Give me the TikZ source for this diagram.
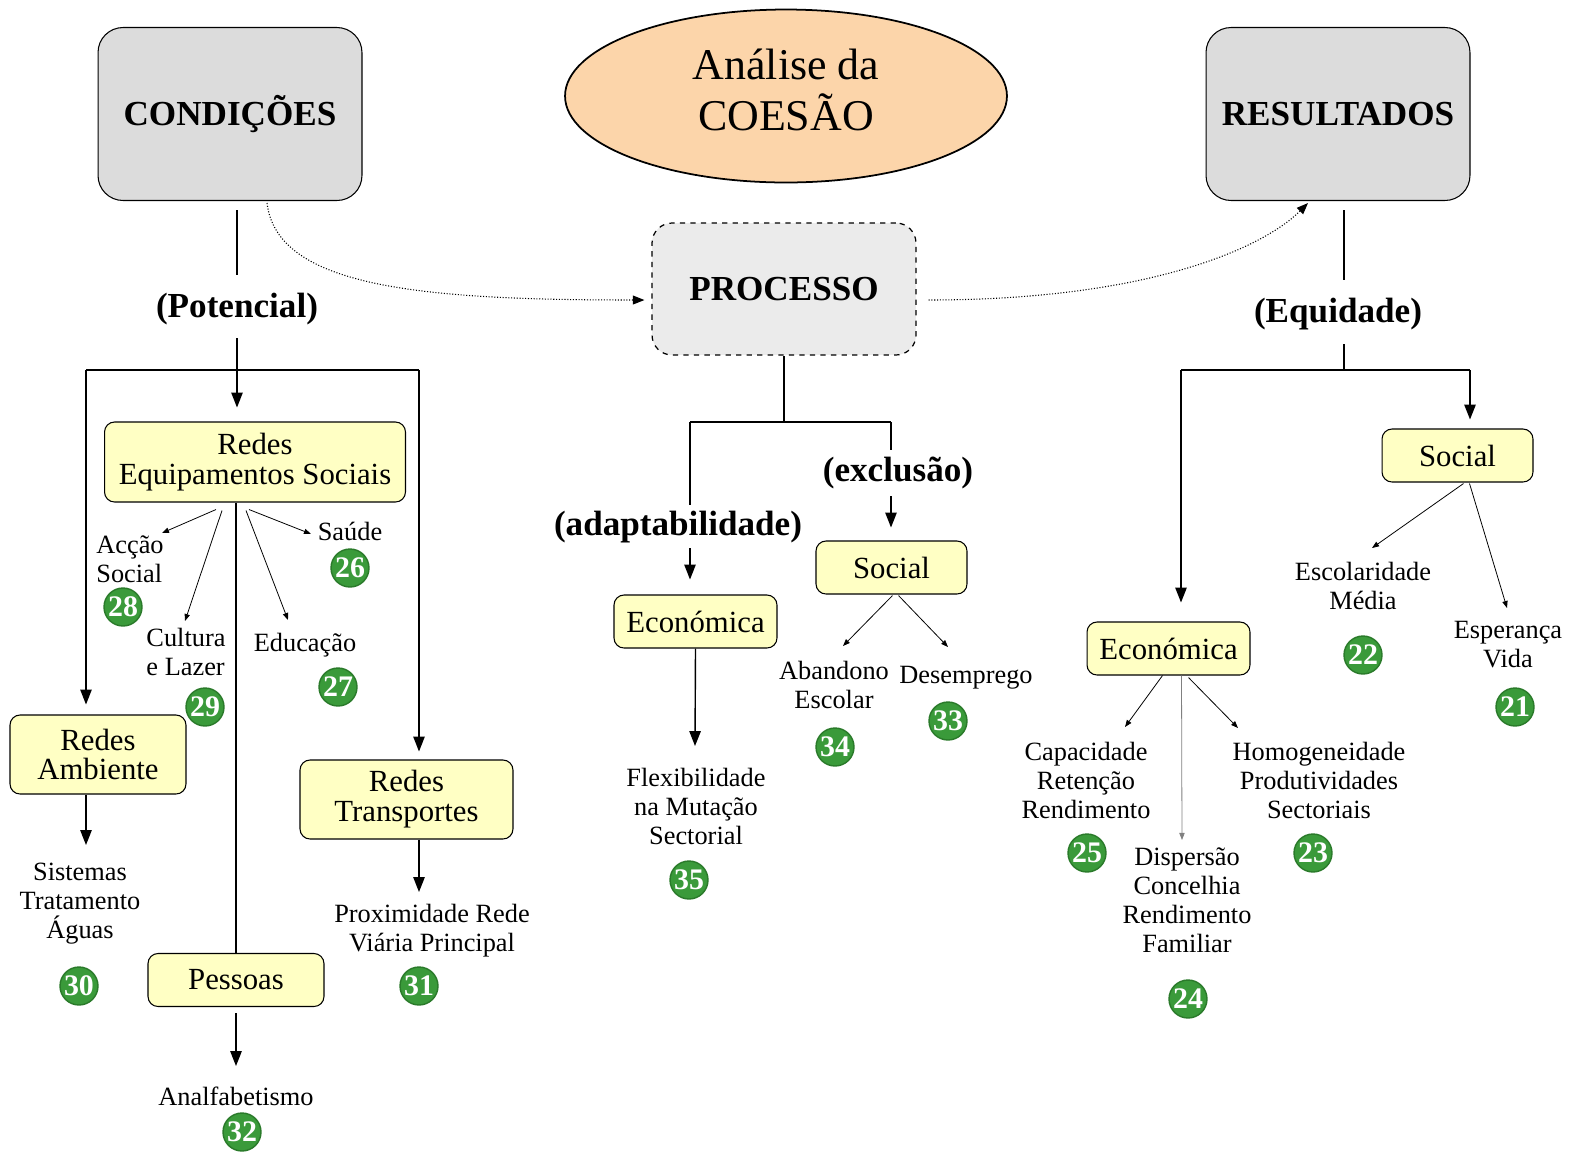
\documentclass[tikz,border=0pt]{standalone}
\usepackage{fontspec}
\setmainfont{Liberation Serif}
\usetikzlibrary{arrows.meta,shapes.geometric,calc}

\definecolor{boxgray}{HTML}{DCDCDC}
\definecolor{procgray}{HTML}{EBEBEB}
\definecolor{peach}{HTML}{FCD5AA}
\definecolor{paleyellow}{HTML}{FFFFC4}
\definecolor{badgegreen}{HTML}{3A9A3A}
\definecolor{badgeline}{HTML}{2A7A2A}

\tikzset{
  ln/.style={line width=0.8pt},
  arr/.style={line width=0.8pt, -{Triangle[length=8.5pt,width=6.5pt]}},
  sarr/.style={line width=0.45pt, -{Triangle[length=4pt,width=3pt]}},
  dotarr/.style={line width=0.6pt, densely dotted, -{Triangle[length=6.5pt,width=5pt]}},
  topbox/.style={draw, line width=0.6pt, rounded corners=0.5cm, fill=boxgray, minimum width=5.28cm, minimum height=3.46cm, inner sep=0pt, font=\bfseries\fontsize{20}{22}\selectfont},
  netbox/.style={draw, line width=0.6pt, rounded corners=0.2cm, fill=paleyellow, inner sep=0pt, align=center, font=\fontsize{17.5}{17}\selectfont},
  paren/.style={inner sep=0pt, font=\bfseries\fontsize{20}{22}\selectfont},
  leaf/.style={inner sep=0pt, align=center, font=\fontsize{15}{16.5}\selectfont},
  badge/.style={circle, draw=badgeline, line width=0.8pt, fill=badgegreen, minimum size=0.76cm, inner sep=0pt, text=white, font=\bfseries\fontsize{17}{17}\selectfont}
}

\begin{document}
\begin{tikzpicture}[x=0.02cm, y=-0.02cm]
\useasboundingbox (0,0) rectangle (1572,1154);

\node[topbox] (cond) at (230,114) {CONDIÇÕES};
\node[topbox] (res) at (1338,114) {RESULTADOS};
\node[ellipse, draw, line width=1pt, fill=peach, minimum width=8.84cm, minimum height=3.46cm, inner sep=0pt, font=\fontsize{25}{27}\selectfont] (title) at (786,96) {\raisebox{0.24cm}{\begin{tabular}{@{}c@{}}Análise da\\COESÃO\end{tabular}}};
\node[draw, dashed, line width=0.7pt, rounded corners=0.4cm, fill=procgray, minimum width=5.28cm, minimum height=2.64cm, inner sep=0pt, font=\bfseries\fontsize{20}{22}\selectfont] (proc) at (784,289) {PROCESSO};

\node[paren] (pot) at (237,309) {(Potencial)};
\node[paren] (equi) at (1338,314) {(Equidade)};
\node[paren] (adapt) at (678,527) {(adaptabilidade)};
\node[paren] (excl) at (898,473) {(exclusão)};

\node[netbox, minimum width=6.02cm, minimum height=1.6cm] (equip) at (255,462) {Redes\\Equipamentos Sociais};
\node[netbox, minimum width=3.52cm, minimum height=1.58cm] (amb) at (98,754.5) {Redes\\Ambiente};
\node[netbox, minimum width=4.26cm, minimum height=1.58cm] (trans) at (406.5,799.5) {Redes\\Transportes};
\node[netbox, minimum width=3.52cm, minimum height=1.06cm] (pes) at (236,980) {Pessoas};
\node[netbox, minimum width=3.26cm, minimum height=1.06cm] (econM) at (695.5,621.5) {Económica};
\node[netbox, minimum width=3.02cm, minimum height=1.06cm] (socM) at (891.5,567.5) {Social};
\node[netbox, minimum width=3.26cm, minimum height=1.06cm] (econR) at (1168.5,648.5) {Económica};
\node[netbox, minimum width=3.02cm, minimum height=1.06cm] (socR) at (1457.5,455.5) {Social};

\node[leaf, align=left] (accao) at (130,559) {Acção\\Social};
\node[leaf, align=left] (cultura) at (186,652) {Cultura\\e Lazer};
\node[leaf] (educ) at (305,645) {Educação};
\node[leaf] (saude) at (350,531) {Saúde};
\node[leaf] (sis) at (80,904) {Sistemas\\Tratamento\\Águas};
\node[leaf] (prox) at (432,931) {Proximidade Rede\\Viária Principal};
\node[leaf] (analf) at (236,1096) {Analfabetismo};
\node[leaf] (flex) at (696,806) {Flexibilidade\\na Mutação\\Sectorial};
\node[leaf] (aband) at (834,685) {Abandono\\Escolar};
\node[leaf] (desemp) at (966,678) {Desemprego};
\node[leaf] (capac) at (1086,780) {Capacidade\\Retenção\\Rendimento};
\node[leaf] (disp) at (1187,900) {Dispersão\\Concelhia\\Rendimento\\Familiar};
\node[leaf] (homog) at (1319,780) {Homogeneidade\\Produtividades\\Sectoriais};
\node[leaf] (escol) at (1363,586) {Escolaridade\\Média};
\node[leaf] (esper) at (1508,645) {Esperança\\Vida};

\foreach \n/\x/\y in {21/1515/707, 22/1363/655, 23/1313/853, 24/1188/999, 25/1087/853, 26/350/568, 27/338/687, 28/123/607, 29/205/707, 30/79/986, 31/419/986, 32/242/1132, 33/948/721, 34/835/747, 35/689/880}
  \node[badge] (b\n) at (\x,\y) {\n};

\coordinate (potM) at (237,370);
\coordinate (potL) at (86,370);
\coordinate (potR) at (419,370);
\coordinate (prM) at (784,422);
\coordinate (prL) at (690,422);
\coordinate (prR) at (891,422);
\coordinate (rsM) at (1344,370);
\coordinate (rsL) at (1181,370);
\coordinate (rsR) at (1470,370);

\draw[ln, shorten <=0.18cm] (cond.south -| potM) -- ($(pot)+(0,-34)$);
\draw[ln] ($(pot)+(0,29)$) -- (potM);
\draw[ln] (potL) -- (potR);
\draw[arr, shorten >=0.28cm] (potM) -- (potM |- equip.north);
\draw[arr, shorten >=0.2cm] (potL) -- (potL |- amb.north);
\draw[arr, shorten >=0.16cm] (potR) -- (potR |- trans.north);
\draw[arr] (potL |- amb.south) -- ($(sis)+(6,-59)$);
\draw[arr] (potR |- trans.south) -- ($(prox)+(-13,-39)$);
\draw[ln] (pes.north |- equip.south) -- (pes.north);
\draw[arr, shorten <=0.12cm] (pes.south) -- ($(analf)+(0,-30)$);
\draw[sarr] ($(equip.south)+(-39,7)$) -- ($(accao)+(32,-26)$);
\draw[sarr] ($(equip.south)+(-33,8)$) -- ($(cultura)+(-1,-31)$);
\draw[sarr] ($(equip.south)+(-9,8)$) -- ($(educ)+(-17,-25)$);
\draw[sarr] ($(equip.south)+(-6,7)$) -- ($(saude)+(-39,3)$);

\draw[dotarr] ($(cond.south)+(37,2)$) .. controls +(10,85) and +(-220,0) .. ($(proc.west)+(-7,11)$);
\draw[dotarr] ($(proc.east)+(12,11)$) .. controls +(220,0) and +(-45,45) .. ($(res.south)+(-30,2)$);

\draw[ln] (proc.south) -- (prM);
\draw[ln] (prL) -- (prR);
\draw[ln] (prL) -- ($(adapt)+(12,-22)$);
\draw[arr, shorten >=0.3cm] ($(adapt)+(12,21)$) -- (prL |- econM.north);
\draw[ln] (prR) -- ($(excl)+(-7,-23)$);
\draw[arr, shorten >=0.26cm] ($(excl)+(-7,23)$) -- (prR |- socM.north);
\draw[arr] (econM.south) -- ($(flex)+(-1,-60)$);
\draw[sarr] ($(socM.south)+(1,1)$) -- ($(aband)+(9,-39)$);
\draw[sarr] ($(socM.south)+(7,1)$) -- ($(desemp)+(-18,-31)$);

\draw[ln, shorten <=0.18cm] (res.south -| rsM) -- ($(equi)+(6,-34)$);
\draw[ln] ($(equi)+(6,30)$) -- (rsM);
\draw[ln] (rsL) -- (rsR);
\draw[arr, shorten >=0.38cm] (rsL) -- (rsL |- econR.north);
\draw[arr, shorten >=0.18cm] (rsR) -- (rsR |- socR.north);
\draw[sarr] ($(econR.south)+(-6,0)$) -- ($(capac)+(39,-53)$);
\draw[sarr, draw=gray] ($(econR.south)+(13,0)$) -- ($(disp)+(-5,-60)$);
\draw[sarr] ($(econR.south)+(20,2)$) -- ($(homog)+(-81,-52)$);
\draw[sarr] ($(socR.south)+(6,1)$) -- ($(escol)+(9,-38)$);
\draw[sarr] ($(socR.south)+(12,1)$) -- ($(esper)+(-1,-37)$);
\end{tikzpicture}
\end{document}
